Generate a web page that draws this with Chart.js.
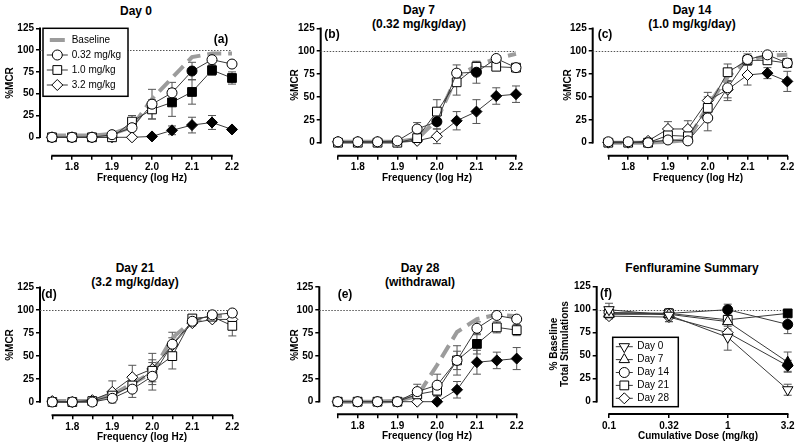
<!DOCTYPE html>
<html>
<head>
<meta charset="utf-8">
<script src="https://cdn.jsdelivr.net/npm/chart.js@4.4.0/dist/chart.umd.min.js"></script>
<style>
  html, body { margin: 0; padding: 0; background: #fff; }
  body { width: 800px; height: 447px; position: relative; overflow: hidden;
         font-family: "Liberation Sans", Arial, Helvetica, sans-serif; color: #000; }
  .panel { position: absolute; }
  .t { position: absolute; font-weight: bold; font-size: 12px; line-height: 14px; text-align: center;
       white-space: nowrap; transform: translateX(-50%); }
  .lab { position: absolute; font-weight: bold; font-size: 12px; line-height: 12px; transform: translate(-50%, -50%); }
  .xt { position: absolute; font-weight: bold; font-size: 10px; line-height: 12px; white-space: nowrap;
        transform: translate(-50%, -50%); }
  .yt { position: absolute; font-weight: bold; font-size: 10px; line-height: 11px; white-space: nowrap; text-align: center;
        transform: translate(-50%, -50%) rotate(-90deg); }
</style>
</head>
<body>

<!-- panel titles -->
<div class="t" style="left:136px;top:4px">Day 0</div>
<div class="t" style="left:419px;top:3px">Day 7<br>(0.32 mg/kg/day)</div>
<div class="t" style="left:692px;top:3px">Day 14<br>(1.0 mg/kg/day)</div>
<div class="t" style="left:135px;top:261px">Day 21<br>(3.2 mg/kg/day)</div>
<div class="t" style="left:420px;top:261px">Day 28<br>(withdrawal)</div>
<div class="t" style="left:692px;top:261px">Fenfluramine Summary</div>

<div class="panel" id="pa"><canvas></canvas></div>
<div class="panel" id="pb"><canvas></canvas></div>
<div class="panel" id="pc"><canvas></canvas></div>
<div class="panel" id="pd"><canvas></canvas></div>
<div class="panel" id="pe"><canvas></canvas></div>
<div class="panel" id="pf"><canvas></canvas></div>

<!-- panel letters -->
<div class="lab" style="left:221px;top:39px">(a)</div>
<div class="lab" style="left:332px;top:34px">(b)</div>
<div class="lab" style="left:605px;top:34px">(c)</div>
<div class="lab" style="left:49px;top:294px">(d)</div>
<div class="lab" style="left:345px;top:294px">(e)</div>
<div class="lab" style="left:606px;top:293px">(f)</div>

<!-- axis titles -->
<div class="yt" style="left:9px;top:83px">%MCR</div>
<div class="yt" style="left:294px;top:85px">%MCR</div>
<div class="yt" style="left:567px;top:85px">%MCR</div>
<div class="yt" style="left:9px;top:345px">%MCR</div>
<div class="yt" style="left:294px;top:345px">%MCR</div>
<div class="yt" style="left:559px;top:344px">% Baseline<br>Total Stimulations</div>
<div class="xt" style="left:142px;top:178px">Frequency (log Hz)</div>
<div class="xt" style="left:427px;top:178px">Frequency (log Hz)</div>
<div class="xt" style="left:698px;top:178px">Frequency (log Hz)</div>
<div class="xt" style="left:142px;top:437px">Frequency (log Hz)</div>
<div class="xt" style="left:427px;top:436px">Frequency (log Hz)</div>
<div class="xt" style="left:698px;top:436px">Cumulative Dose (mg/kg)</div>

<script>
// ---- axes ----
const freq = [1.75, 1.8, 1.85, 1.9, 1.95, 2.0, 2.05, 2.1, 2.15, 2.2];
const freqLabels = ['', '1.8', '', '1.9', '', '2.0', '', '2.1', '', '2.2'];
const mcrTicks = [0, 25, 50, 75, 100, 125];
const doses = [0.1, 0.32, 1, 3.2];
const doseLabels = ['0.1', '0.32', '1', '3.2'];
const refLevel = 100;

// ---- Day 0 ----
const d0Base = [2, 2, 2, 4, 12, 44, 68, 92, 96, 96];
const d0Low = [0, 0, 0, 3, 11, 38, 51, 76, 89, 84];
const d0LowErr = [0, 0, 0, 0, 4, 17, 12, 10, 3, 0];
const d0LowSig = [0, 0, 0, 0, 0, 0, 0, 1, 0, 0];
const d0Mid = [0, 0, 0, 0, 18, 32, 40, 52, 77, 68];
const d0MidErr = [0, 0, 0, 0, 7, 11, 16, 14, 6, 7];
const d0MidSig = [0, 0, 0, 0, 0, 0, 1, 1, 1, 1];
const d0High = [0, 0, 0, 0, 0, 1, 8, 14, 17, 9];
const d0HighErr = [0, 0, 0, 0, 0, 0, 5, 9, 8, 0];
const d0HighSig = [0, 0, 0, 0, 0, 1, 1, 1, 1, 1];

// ---- Day 7 ----
const d7Base = [1, 1, 1, 1, 4, 25, 72, 84, 92, 97];
const d7Low = [1, 1, 1, 2, 15, 23, 76, 77, 92, 82];
const d7LowErr = [0, 0, 0, 0, 7, 8, 9, 12, 3, 2];
const d7LowSig = [0, 0, 0, 0, 0, 1, 0, 1, 0, 0];
const d7Mid = [0, 0, 0, 0, 5, 34, 66, 83, 83, 82];
const d7MidErr = [0, 0, 0, 0, 3, 13, 14, 5, 3, 2];
const d7MidSig = [0, 0, 0, 0, 0, 0, 0, 0, 0, 0];
const d7High = [1, 1, 1, 1, 2, 7, 24, 34, 51, 53];
const d7HighErr = [0, 0, 0, 0, 0, 8, 10, 13, 9, 9];
const d7HighSig = [0, 0, 0, 0, 0, 0, 1, 1, 1, 1];

// ---- Day 14 ----
const d14Base = [0, 0, 0, 1, 3, 40, 72, 90, 95, 96];
const d14Low = [1, 1, 0, 3, 2, 27, 60, 91, 96, 87];
const d14LowErr = [0, 0, 0, 0, 0, 14, 14, 6, 0, 2];
const d14LowSig = [0, 0, 0, 0, 0, 0, 0, 0, 0, 0];
const d14Mid = [0, 0, 0, 8, 7, 38, 77, 90, 90, 87];
const d14MidErr = [0, 0, 0, 0, 0, 12, 9, 5, 3, 2];
const d14MidSig = [0, 0, 0, 0, 0, 0, 0, 0, 0, 0];
const d14High = [0, 0, 2, 15, 15, 46, 58, 74, 76, 67];
const d14HighErr = [0, 0, 0, 8, 9, 9, 9, 11, 6, 11];
const d14HighSig = [0, 0, 0, 0, 0, 0, 0, 0, 1, 1];

// ---- Day 21 ----
const d21Base = [1, 1, 1, 8, 20, 32, 70, 88, 93, 95];
const d21Low = [0, 0, 0, 4, 14, 28, 63, 88, 95, 97];
const d21LowErr = [0, 0, 0, 2, 9, 15, 13, 3, 2, 0];
const d21LowSig = [0, 0, 0, 0, 0, 0, 0, 0, 0, 0];
const d21Mid = [0, 0, 1, 7, 18, 34, 50, 91, 93, 83];
const d21MidErr = [0, 0, 0, 0, 5, 12, 14, 3, 2, 11];
const d21MidSig = [0, 0, 0, 0, 0, 0, 0, 0, 0, 0];
const d21High = [1, 0, 2, 11, 27, 36, 62, 86, 90, 90];
const d21HighErr = [0, 0, 0, 12, 13, 17, 8, 3, 2, 3];
const d21HighSig = [0, 0, 0, 0, 0, 0, 0, 0, 0, 0];

// ---- Day 28 ----
const d28Base = [0, 0, 0, 1, 6, 40, 76, 90, 95, 93];
const d28Low = [0, 0, 0, 0, 11, 18, 45, 80, 94, 90];
const d28LowErr = [0, 0, 0, 0, 8, 12, 16, 7, 3, 2];
const d28LowSig = [0, 0, 0, 0, 0, 0, 0, 0, 0, 0];
const d28Mid = [0, 0, 0, 0, 8, 12, 45, 63, 81, 78];
const d28MidErr = [0, 0, 0, 0, 3, 5, 10, 11, 6, 6];
const d28MidSig = [0, 0, 0, 0, 0, 0, 0, 1, 0, 0];
const d28High = [0, 0, 0, 0, 0, 0, 13, 43, 45, 47];
const d28HighErr = [0, 0, 0, 0, 0, 0, 9, 13, 9, 12];
const d28HighSig = [0, 0, 0, 0, 0, 1, 1, 1, 1, 1];

// ---- summary (% baseline total stimulations) ----
const sumDay0 = [100, 94, 70, 13];
const sumDay0Err = [7, 7, 14, 6];
const sumDay0Sig = [0, 0, 0, 0];
const sumDay7 = [95, 95, 87, 43];
const sumDay7Err = [4, 4, 5, 11];
const sumDay7Sig = [0, 0, 0, 1];
const sumDay14 = [97, 96, 100, 84];
const sumDay14Err = [3, 3, 6, 10];
const sumDay14Sig = [0, 0, 1, 1];
const sumDay21 = [96, 96, 89, 96];
const sumDay21Err = [3, 4, 4, 3];
const sumDay21Sig = [0, 0, 0, 1];
const sumDay28 = [93, 92, 75, 39];
const sumDay28Err = [3, 5, 4, 6];
const sumDay28Sig = [0, 0, 0, 1];

const FONT = '"Liberation Sans", Arial, Helvetica, sans-serif';
const tickFont = { family: FONT, size: 10, weight: 'bold' };
const Y_W = 30, X_H = 20;

// axis lines (Prism style, detached) + dotted 100% line
const axisLines = {
  id: 'axisLines',
  beforeDatasetsDraw(chart, args, o) {
    const { ctx, chartArea: ca, scales: { x, y } } = chart;
    ctx.save();
    ctx.strokeStyle = '#000';
    ctx.lineWidth = 2;
    ctx.beginPath();
    ctx.moveTo(ca.left, y.getPixelForValue(0) + 0.75);
    ctx.lineTo(ca.left, y.getPixelForValue(125) - 0.75);
    ctx.moveTo(x.getPixelForValue(o.x0) - 0.75, ca.bottom);
    ctx.lineTo(x.getPixelForValue(o.x1) + 0.75, ca.bottom);
    ctx.stroke();
    const ry = Math.round(y.getPixelForValue(refLevel)) + 0.5;
    ctx.strokeStyle = '#555';
    ctx.lineWidth = 1;
    ctx.setLineDash([1.5, 1.5]);
    ctx.beginPath();
    ctx.moveTo(ca.left, ry);
    ctx.lineTo(ca.right, ry);
    ctx.stroke();
    ctx.restore();
  }
};

// error bars, drawn under the markers
const errorBars = {
  id: 'errorBars',
  beforeDatasetsDraw(chart) {
    const { ctx, scales: { x, y } } = chart;
    ctx.save();
    ctx.strokeStyle = '#555';
    ctx.lineWidth = 1;
    chart.data.datasets.forEach(ds => {
      if (!ds.errors) return;
      ds.data.forEach((p, i) => {
        const e = ds.errors[i];
        if (!e) return;
        const px = x.getPixelForValue(p.x);
        const lo = y.getPixelForValue(p.y - e), hi = y.getPixelForValue(p.y + e);
        ctx.beginPath();
        ctx.moveTo(px, lo); ctx.lineTo(px, hi);
        ctx.moveTo(px - 4, lo); ctx.lineTo(px + 4, lo);
        ctx.moveTo(px - 4, hi); ctx.lineTo(px + 4, hi);
        ctx.stroke();
      });
    });
    ctx.restore();
  }
};

// boxed legend inside the plot, line + marker per dataset
const boxLegend = {
  id: 'boxLegend',
  afterDraw(chart, args, o) {
    if (!o.w) return;
    const { ctx, chartArea: ca } = chart;
    const bx = ca.left + o.x, by = ca.top + o.y;
    ctx.save();
    ctx.fillStyle = '#fff';
    ctx.fillRect(bx, by, o.w, o.h);
    ctx.strokeStyle = '#000';
    ctx.lineWidth = 1.5;
    ctx.strokeRect(bx, by, o.w, o.h);
    ctx.font = '10px ' + FONT;
    ctx.textBaseline = 'middle';
    chart.data.datasets.forEach((ds, i) => {
      const cy = by + o.first + i * o.rowH, mx = bx + o.markX;
      ctx.strokeStyle = ds.borderColor;
      ctx.lineWidth = ds.borderWidth;
      ctx.beginPath();
      const half = ds.pointRadius ? o.lineHalf : o.lineHalf - 3;
      ctx.moveTo(mx - half, cy); ctx.lineTo(mx + half, cy);
      ctx.stroke();
      if (ds.pointRadius) {
        ctx.fillStyle = '#fff';
        ctx.strokeStyle = '#000';
        ctx.lineWidth = 1;
        Chart.helpers.drawPoint(ctx, { pointStyle: ds.pointStyle, radius: ds.pointRadius,
          rotation: ds.pointRotation || 0, borderWidth: 1 }, mx, cy);
      }
      ctx.fillStyle = '#000';
      ctx.fillText(ds.label, bx + o.textX, cy);
    });
    ctx.restore();
  }
};

Chart.register(axisLines, errorBars, boxLegend);

const markers = {
  circle: { pointStyle: 'circle', pointRadius: 5 },
  square: { pointStyle: 'rect', pointRadius: 6.2 },
  diamond: { pointStyle: 'rectRot', pointRadius: 5.5 },
  up: { pointStyle: 'triangle', pointRadius: 6 },
  down: { pointStyle: 'triangle', pointRadius: 6, pointRotation: 180 }
};

function series(label, xs, vals, errs, sig, marker) {
  return Object.assign({
    label,
    data: xs.map((x, i) => ({ x, y: vals[i] })),
    errors: errs,
    borderColor: '#3a3a3a',
    borderWidth: 1,
    pointBackgroundColor: sig.map(s => s ? '#000' : '#fff'),
    pointBorderColor: '#000',
    pointBorderWidth: 1,
    clip: false,
    order: 0
  }, markers[marker]);
}

function baseline(vals) {
  return {
    label: 'Baseline',
    data: freq.map((x, i) => ({ x, y: vals[i] })),
    borderColor: '#9c9c9c',
    borderWidth: 4,
    borderDash: [14, 7],
    pointRadius: 0,
    clip: false,
    order: 1
  };
}

function doseSeries(base, low, lowErr, lowSig, mid, midErr, midSig, high, highErr, highSig) {
  return [
    baseline(base),
    series('0.32 mg/kg', freq, low, lowErr, lowSig, 'circle'),
    series('1.0 mg/kg', freq, mid, midErr, midSig, 'square'),
    series('3.2 mg/kg', freq, high, highErr, highSig, 'diamond')
  ];
}

function buildChart(id, box, area, xs, xLabels, logX, datasets, legend) {
  const wrap = document.getElementById(id);
  wrap.style.left = box.left + 'px';
  wrap.style.top = box.top + 'px';
  wrap.style.width = box.width + 'px';
  wrap.style.height = box.height + 'px';
  const x0 = xs[0], x1 = xs[xs.length - 1];
  const span = (area.first - area.left) / (area.last - area.first);
  const xmin = logX
    ? Math.pow(10, Math.log10(x0) - span * (Math.log10(x1) - Math.log10(x0)))
    : x0 - span * (x1 - x0);
  const ymin = -(area.bottom - area.zero) * 125 / (area.zero - area.top);
  const grid = { drawOnChartArea: false, tickLength: 4, color: '#000', lineWidth: 1.5 };
  new Chart(wrap.querySelector('canvas'), {
    type: 'line',
    data: { datasets },
    options: {
      responsive: true,
      maintainAspectRatio: false,
      animation: false,
      events: [],
      layout: {
        padding: {
          left: area.left - box.left - Y_W,
          right: box.left + box.width - area.last,
          top: area.top - box.top,
          bottom: box.top + box.height - area.bottom - X_H
        }
      },
      plugins: {
        legend: { display: false },
        tooltip: { enabled: false },
        axisLines: { x0, x1 },
        boxLegend: legend || {}
      },
      scales: {
        x: {
          type: logX ? 'logarithmic' : 'linear',
          min: xmin,
          max: x1,
          afterBuildTicks: s => { s.ticks = xs.map(v => ({ value: v })); },
          afterFit: s => { s.height = X_H; },
          ticks: { callback: (v, i) => xLabels[i], autoSkip: false, maxRotation: 0, minRotation: 0,
                   padding: 2, color: '#000', font: tickFont },
          grid,
          border: { display: false }
        },
        y: {
          min: ymin,
          max: 125,
          afterBuildTicks: s => { s.ticks = mcrTicks.map(v => ({ value: v })); },
          afterFit: s => { s.width = Y_W; },
          ticks: { callback: v => String(v), padding: 2, color: '#000', font: tickFont },
          grid,
          border: { display: false }
        }
      }
    }
  });
}

const topBox = (left, width) => ({ left, top: 0, width, height: 200 });
const botBox = (left, width) => ({ left, top: 245, width, height: 200 });

buildChart('pa', topBox(0, 265),
  { left: 40, top: 28.3, zero: 137.3, bottom: 155.7, first: 52, last: 232 },
  freq, freqLabels, false,
  doseSeries(d0Base, d0Low, d0LowErr, d0LowSig, d0Mid, d0MidErr, d0MidSig, d0High, d0HighErr, d0HighSig),
  { x: 3, y: 0, w: 85, h: 68, first: 11.7, rowH: 15, markX: 14.3, lineHalf: 10.5, textX: 28.7 });

buildChart('pb', topBox(265, 265),
  { left: 320.7, top: 28.3, zero: 142.7, bottom: 155.7, first: 338, last: 516 },
  freq, freqLabels, false,
  doseSeries(d7Base, d7Low, d7LowErr, d7LowSig, d7Mid, d7MidErr, d7MidSig, d7High, d7HighErr, d7HighSig));

buildChart('pc', topBox(530, 270),
  { left: 592.7, top: 28.3, zero: 142.7, bottom: 155.7, first: 608.3, last: 787.3 },
  freq, freqLabels, false,
  doseSeries(d14Base, d14Low, d14LowErr, d14LowSig, d14Mid, d14MidErr, d14MidSig, d14High, d14HighErr, d14HighSig));

buildChart('pd', botBox(0, 265),
  { left: 40, top: 287.3, zero: 402, bottom: 415.3, first: 52.3, last: 232.3 },
  freq, freqLabels, false,
  doseSeries(d21Base, d21Low, d21LowErr, d21LowSig, d21Mid, d21MidErr, d21MidSig, d21High, d21HighErr, d21HighSig));

buildChart('pe', botBox(265, 265),
  { left: 319.3, top: 287, zero: 401.7, bottom: 414.3, first: 337.7, last: 516.7 },
  freq, freqLabels, false,
  doseSeries(d28Base, d28Low, d28LowErr, d28LowSig, d28Mid, d28MidErr, d28MidSig, d28High, d28HighErr, d28HighSig));

buildChart('pf', botBox(530, 270),
  { left: 596.7, top: 286.7, zero: 401.7, bottom: 414, first: 609, last: 787.7 },
  doses, doseLabels, true,
  [
    series('Day 0', doses, sumDay0, sumDay0Err, sumDay0Sig, 'down'),
    series('Day 7', doses, sumDay7, sumDay7Err, sumDay7Sig, 'up'),
    series('Day 14', doses, sumDay14, sumDay14Err, sumDay14Sig, 'circle'),
    series('Day 21', doses, sumDay21, sumDay21Err, sumDay21Sig, 'square'),
    series('Day 28', doses, sumDay28, sumDay28Err, sumDay28Sig, 'diamond')
  ],
  { x: 16, y: 50.6, w: 65.6, h: 69.4, first: 9.4, rowH: 12.9, markX: 11.6, lineHalf: 8.5, textX: 24.6 });
</script>
</body>
</html>
